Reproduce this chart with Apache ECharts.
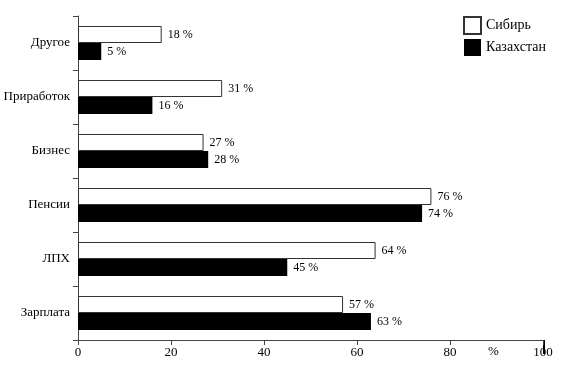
<html>
<head>
    <script src="https://cdn.jsdelivr.net/npm/echarts@6/dist/echarts.min.js"></script>
</head>
<body style="margin:0;">
    <div id="main" style="width:572px;height:377px;"></div>
    <script>
        // категории снизу вверх
        var categories = ['Зарплата', 'ЛПХ', 'Пенсии', 'Бизнес', 'Приработок', 'Другое'];
        var siberia = [57, 64, 76, 27, 31, 18];
        var kazakhstan = [63, 45, 74, 28, 16, 5];
        var xTicks = [0, 20, 40, 60, 80, 100];

        var font = 'Liberation Serif';
        var myChart = echarts.init(document.getElementById('main'));

        var option = {
            backgroundColor: '#fff',
            animation: false,
            textStyle: { fontFamily: font, color: '#000' },
            grid: { left: 78, right: 29, top: 16, bottom: 37, outerBoundsMode: 'none', containLabel: false },
            legend: {
                orient: 'vertical',
                left: 458,
                top: 11,
                itemWidth: 17,
                itemHeight: 17,
                itemGap: 4,
                icon: 'rect',
                textStyle: { fontFamily: font, fontSize: 14, color: '#000' },
                data: ['Сибирь', 'Казахстан']
            },
            xAxis: {
                type: 'value',
                min: xTicks[0],
                max: xTicks[xTicks.length - 1],
                interval: 20,
                splitLine: { show: false },
                axisLine: { show: true, lineStyle: { color: '#444' } },
                axisTick: { show: true, length: 5, lineStyle: { color: '#444' } },
                axisLabel: { fontFamily: font, fontSize: 13, color: '#000', margin: 6 }
            },
            yAxis: {
                type: 'category',
                data: categories,
                axisLine: { show: true, lineStyle: { color: '#444' } },
                axisTick: { show: true, length: 5, lineStyle: { color: '#444' } },
                axisLabel: { fontFamily: font, fontSize: 13, color: '#000', margin: 8 }
            },
            graphic: [
                {
                    type: 'text',
                    left: 488,
                    top: 345,
                    style: { text: '%', font: '13px "Liberation Serif"', fill: '#000' }
                },
                {
                    type: 'rect',
                    shape: { x: 543, y: 340, width: 2, height: 14 },
                    style: { fill: '#000' }
                }
            ],
            series: [
                {
                    name: 'Сибирь',
                    type: 'bar',
                    data: siberia,
                    barGap: '0%',
                    barCategoryGap: '37%',
                    itemStyle: { color: '#fff', borderColor: '#333', borderWidth: 1 },
                    label: {
                        show: true, position: 'right', distance: 6,
                        formatter: '{c} %', fontFamily: font, fontSize: 12, color: '#000'
                    }
                },
                {
                    name: 'Казахстан',
                    type: 'bar',
                    data: kazakhstan,
                    itemStyle: { color: '#000' },
                    label: {
                        show: true, position: 'right', distance: 6,
                        formatter: '{c} %', fontFamily: font, fontSize: 12, color: '#000'
                    }
                }
            ]
        };
        myChart.setOption(option);
    </script>
</body>
</html>
